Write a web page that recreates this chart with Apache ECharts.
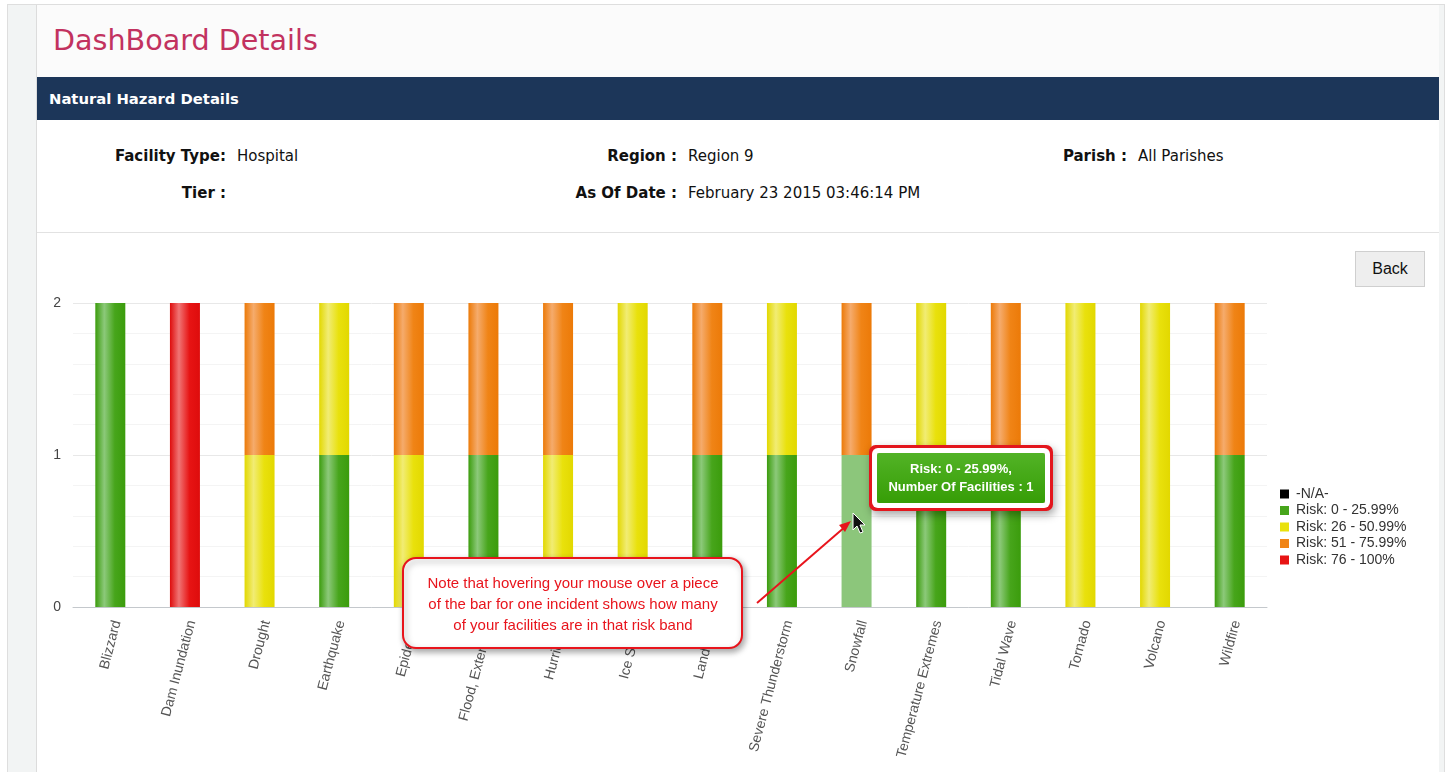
<!DOCTYPE html>
<html>
<head>
<meta charset="utf-8">
<title>DashBoard Details</title>
<script src="https://cdn.jsdelivr.net/npm/echarts@6/dist/echarts.min.js"></script>
<style>
    html, body { margin: 0; padding: 0; background: #fff; overflow: hidden; }
    body { width: 1449px; height: 772px; position: relative; font-family: "DejaVu Sans", Verdana, sans-serif; }
    .frame { position: absolute; left: 7px; top: 4px; width: 1436px; height: 800px; border: 1px solid #dedede; background: #f2f4f4; }
    .content { position: absolute; left: 28px; top: 0; width: 1402px; height: 800px; background: #fff; border-left: 1px solid #dcdcdc; }
    .title-area { position: absolute; left: 0; top: 0; width: 1402px; height: 72px; background: #fbfbfb; }
    .title-area h1 { margin: 0; position: absolute; left: 16px; top: 18px; font-size: 28.6px; font-weight: normal; color: #c2325f; }
    .hbar { position: absolute; left: 0; top: 72px; width: 1402px; height: 43px; background: #1c3659; color: #fff;
        font-weight: bold; font-size: 14.8px; line-height: 43px; padding-left: 12px; box-sizing: border-box; }
    .info { position: absolute; left: 0; top: 115px; width: 1402px; height: 112px; border-bottom: 1px solid #e2e2e2; }
    .lbl, .val { position: absolute; font-size: 15px; color: #111; white-space: nowrap; }
    .lbl { width: 220px; text-align: right; font-weight: bold; }
    .back { position: absolute; left: 1318px; top: 246px; width: 70px; height: 36px; box-sizing: border-box; background: #eeeeee;
        border: 1px solid #cfcfcf; font-family: "Liberation Sans", Arial, sans-serif; font-size: 16px; color: #111; text-align: center; line-height: 34px; }
    #chart { position: absolute; left: 36px; top: 240px; width: 1402px; height: 532px; }
</style>
</head>
<body>
<div class="frame">
    <div class="content">
        <div class="title-area"><h1>DashBoard Details</h1></div>
        <div class="hbar">Natural Hazard Details</div>
        <div class="info">
            <div class="lbl" style="left:-31px;top:27px">Facility Type:</div>
            <div class="val" style="left:200px;top:27px">Hospital</div>
            <div class="lbl" style="left:-31px;top:64px">Tier :</div>
            <div class="lbl" style="left:420px;top:27px">Region :</div>
            <div class="val" style="left:651px;top:27px">Region 9</div>
            <div class="lbl" style="left:420px;top:64px">As Of Date :</div>
            <div class="val" style="left:651px;top:64px">February 23 2015 03:46:14 PM</div>
            <div class="lbl" style="left:870px;top:27px">Parish :</div>
            <div class="val" style="left:1101px;top:27px">All Parishes</div>
        </div>
        <div class="back">Back</div>
    </div>
</div>
<div id="chart"></div>
<script>
    const categories = ['Blizzard', 'Dam Inundation', 'Drought', 'Earthquake', 'Epidemic', 'Flood, Extensive',
        'Hurricane', 'Ice Storm', 'Landslide', 'Severe Thunderstorm', 'Snowfall', 'Temperature Extremes',
        'Tidal Wave', 'Tornado', 'Volcano', 'Wildfire'];
    const riskBands = ['-N/A-', 'Risk: 0 - 25.99%', 'Risk: 26 - 50.99%', 'Risk: 51 - 75.99%', 'Risk: 76 - 100%'];
    const naCount = [0, 0, 0, 0, 0, 0, 0, 0, 0, 0, 0, 0, 0, 0, 0, 0];
    const lowRisk = [2, 0, 0, 1, 0, 1, 0, 0, 1, 1, 1, 1, 1, 0, 0, 1];
    const midRisk = [0, 0, 1, 1, 1, 0, 1, 2, 0, 1, 0, 1, 0, 2, 2, 0];
    const highRisk = [0, 0, 1, 0, 1, 1, 1, 0, 1, 0, 1, 0, 1, 0, 0, 1];
    const severeRisk = [0, 2, 0, 0, 0, 0, 0, 0, 0, 0, 0, 0, 0, 0, 0, 0];
    const yTicks = [0, 1, 2];

    // [base, light band, dark edge] per band
    const bandColors = [
        ['#000000', '#333333', '#000000'],
        ['#47a51b', '#8cc97a', '#3b9c0c'],
        ['#e9e10c', '#f1ec74', '#e2d800'],
        ['#f08416', '#f5ab6c', '#ec7a08'],
        ['#e71414', '#f07474', '#de0c0c']
    ];
    const bandData = [naCount, lowRisk, midRisk, highRisk, severeRisk];

    function barFill(c) {
        return new echarts.graphic.LinearGradient(0, 0, 1, 0, [
            {offset: 0, color: c[2]},
            {offset: 0.3, color: c[1]},
            {offset: 0.65, color: c[0]},
            {offset: 1, color: c[2]}
        ]);
    }

    let chart = echarts.init(document.getElementById('chart'));

    // cursor arrow shape, tip at origin
    const cursorTip = [817, 273];
    const cursorShape = [[0, 0], [0, 17], [4, 13], [7, 20], [10, 19], [7, 12], [12, 12]];
    const red = '#e8141c';

    let option = {
        animation: false,
        textStyle: {fontFamily: '"Liberation Sans", Arial, sans-serif'},
        grid: {left: 37, right: 171, top: 63, bottom: 165},
        legend: {
            orient: 'vertical',
            left: 1239,
            top: 242,
            itemWidth: 9,
            itemHeight: 9,
            itemGap: 2.5,
            icon: 'rect',
            data: riskBands.map((name, i) => ({name: name, itemStyle: {color: bandColors[i][0]}})),
            textStyle: {fontSize: 14, color: '#333', padding: [0, 0, 0, 2]}
        },
        tooltip: {
            trigger: 'item',
            triggerOn: 'none',
            alwaysShowContent: true,
            transitionDuration: 0,
            position: [841, 213],
            padding: [7, 10],
            borderWidth: 0,
            backgroundColor: '#3ea20f',
            textStyle: {color: '#fff', fontSize: 13, fontWeight: 'bold', fontFamily: '"Liberation Sans", Arial, sans-serif'},
            extraCssText: 'width:148px;text-align:center;line-height:18px;border-radius:2px;' +
                'background:linear-gradient(#52b326,#369d06);' +
                'box-shadow:0 0 0 5px #fff,0 0 0 8px #e3161d,2px 4px 9px 8px rgba(0,0,0,0.35);',
            formatter: p => p.seriesName + ',<br/>Number Of Facilities : ' + p.value
        },
        xAxis: {
            type: 'category',
            data: categories,
            axisLine: {lineStyle: {color: '#c4c8cc'}},
            axisTick: {length: 5, lineStyle: {color: '#c4c8cc'}},
            axisLabel: {rotate: 75, fontSize: 14, color: '#555', margin: 12, interval: 0, verticalAlign: 'top'}
        },
        yAxis: {
            type: 'value',
            min: 0,
            max: 2,
            interval: 1,
            axisLabel: {fontSize: 14, color: '#444', margin: 12, formatter: v => yTicks.includes(v) ? String(v) : ''},
            splitLine: {lineStyle: {color: '#e8e8e8'}},
            minorTick: {show: false, splitNumber: 5},
            minorSplitLine: {show: true, lineStyle: {color: '#f4f4f4'}}
        },
        series: riskBands.map((name, i) => ({
            name: name,
            type: 'bar',
            stack: 'risk',
            barWidth: 30,
            data: bandData[i],
            itemStyle: {color: barFill(bandColors[i]), borderWidth: 0},
            emphasis: {itemStyle: {color: i == 1 ? '#8cc67b' : barFill(bandColors[i])}}
        })),
        graphic: [
            // note callout
            {
                type: 'rect',
                z: 100,
                shape: {x: 367, y: 318, width: 339, height: 90, r: 13},
                style: {fill: '#fff', stroke: red, lineWidth: 2,
                    shadowBlur: 6, shadowColor: 'rgba(0,0,0,0.35)', shadowOffsetX: 2, shadowOffsetY: 3}
            },
            {
                type: 'text',
                z: 101,
                x: 537,
                y: 365,
                style: {
                    text: 'Note that hovering your mouse over a piece\nof the bar for one incident shows how many\nof your facilities are in that risk band',
                    fill: red,
                    font: '15px "Liberation Sans", Arial, sans-serif',
                    align: 'center',
                    verticalAlign: 'middle',
                    lineHeight: 21
                }
            },
            {
                type: 'line',
                z: 100,
                shape: {x1: 721, y1: 363, x2: 810, y2: 286},
                style: {stroke: red, lineWidth: 2}
            },
            {
                type: 'polygon',
                z: 100,
                shape: {points: [[815, 281], [809, 292], [803, 285]]},
                style: {fill: red}
            },
            {
                type: 'polygon',
                z: 102,
                shape: {points: cursorShape.map(p => [p[0] + cursorTip[0], p[1] + cursorTip[1]])},
                style: {fill: '#111', stroke: '#fff', lineWidth: 1}
            }
        ]
    };
    chart.setOption(option);

    // hovered piece: Snowfall, low risk band
    chart.dispatchAction({type: 'highlight', seriesIndex: 1, dataIndex: 10});
    chart.dispatchAction({type: 'showTip', seriesIndex: 1, dataIndex: 10});

    window.addEventListener('resize', function () {
        chart.resize();
    });
</script>
</body>
</html>
